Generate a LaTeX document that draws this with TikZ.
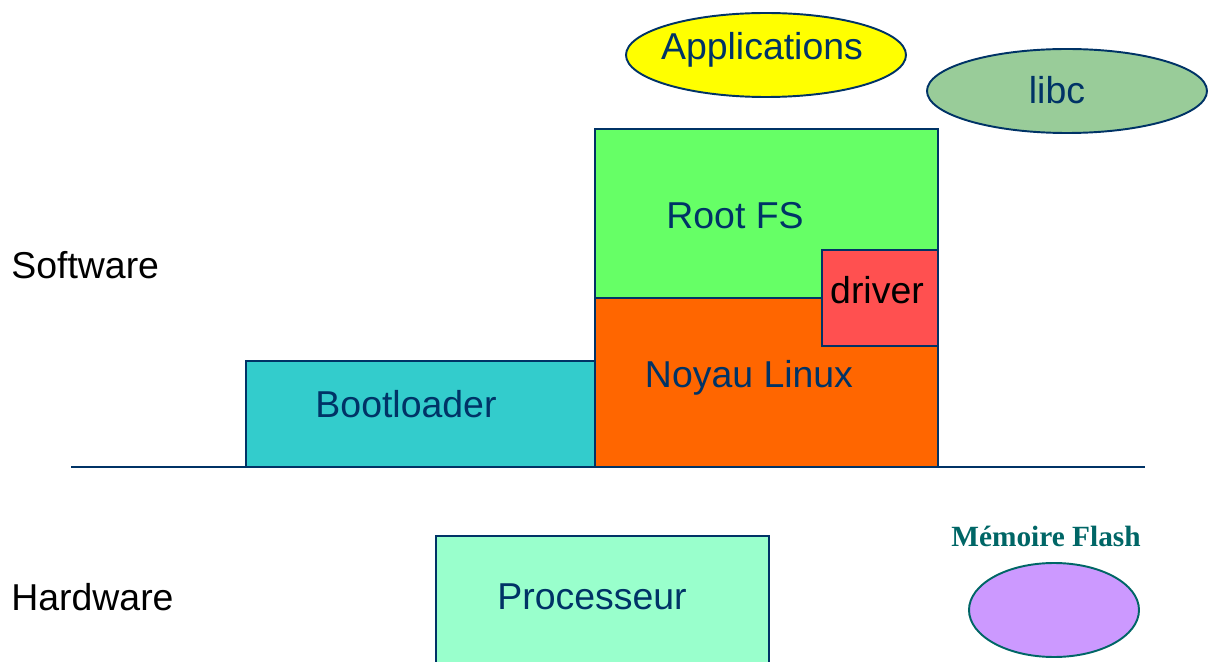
\documentclass[tikz,border=0pt]{standalone}
\usepackage{fontspec}
\setmainfont{Liberation Sans}
\newfontfamily\serifbold{Liberation Serif}
\usetikzlibrary{shapes.geometric}
\definecolor{navy}{HTML}{003366}
\definecolor{teal}{HTML}{006666}
\definecolor{appyellow}{HTML}{FFFF00}
\definecolor{libcgreen}{HTML}{99CC99}
\definecolor{rootgreen}{HTML}{66FF66}
\definecolor{driverred}{HTML}{FF5050}
\definecolor{kernelorange}{HTML}{FF6600}
\definecolor{bootcyan}{HTML}{33CCCC}
\definecolor{cpugreen}{HTML}{99FFCC}
\definecolor{flashlilac}{HTML}{CC99FF}
\tikzset{
  block/.style={draw=navy, line width=1.1pt},
  label/.style={text=navy, font=\fontsize{21.3}{25}\selectfont, inner sep=0pt},
  side/.style={text=black, font=\fontsize{21.3}{25}\selectfont, inner sep=0pt, anchor=west}
}

\begin{document}
\begin{tikzpicture}[x=0.02cm, y=-0.02cm]
			%%%%% START %%%%%
			\useasboundingbox (0, 0) rectangle (1208, 662);
			
			\draw[block, fill=appyellow] (766, 55) ellipse (140 and 42);
			\node[label] (apps) at (762, 50) {Applications};
			
			\draw[block, fill=libcgreen] (1067, 91) ellipse (140 and 42);
			\node[label] (libc) at (1057, 90) {libc};
			
			\draw[block, fill=rootgreen] (595, 129) rectangle (938, 298);
			\node[label] (rootfs) at (735, 216) {Root FS};
			
			\draw[block, fill=kernelorange] (595, 298) rectangle (938, 467);
			\node[label] (noyau) at (749, 378) {Noyau Linux};
			
			\draw[block, fill=driverred] (822, 250) rectangle (938, 346);
			\node[label, text=black] (driver) at (877, 290) {driver};
			
			\draw[block, fill=bootcyan] (246, 361) rectangle (595, 467);
			\node[label] (boot) at (406, 404) {Bootloader};
			
			\draw[navy, line width=1.1pt] (71, 467) -- (1145, 467);
			
			\node[side] (soft) at (11, 265) {Software};
			\node[side] (hard) at (11, 597) {Hardware};
			
			\draw[block, fill=cpugreen] (436, 536) rectangle (769, 680);
			\node[label] (cpu) at (592, 597) {Processeur};
			
			\node[text=teal, font=\serifbold\bfseries\fontsize{16.7}{20}\selectfont, inner sep=0pt] (flashtxt) at (1046, 536) {Mémoire Flash};
			\draw[draw=teal, line width=1.1pt, fill=flashlilac] (1054, 610) ellipse (85 and 47);
			
			%%%%% END %%%%%
\end{tikzpicture}
\end{document}
